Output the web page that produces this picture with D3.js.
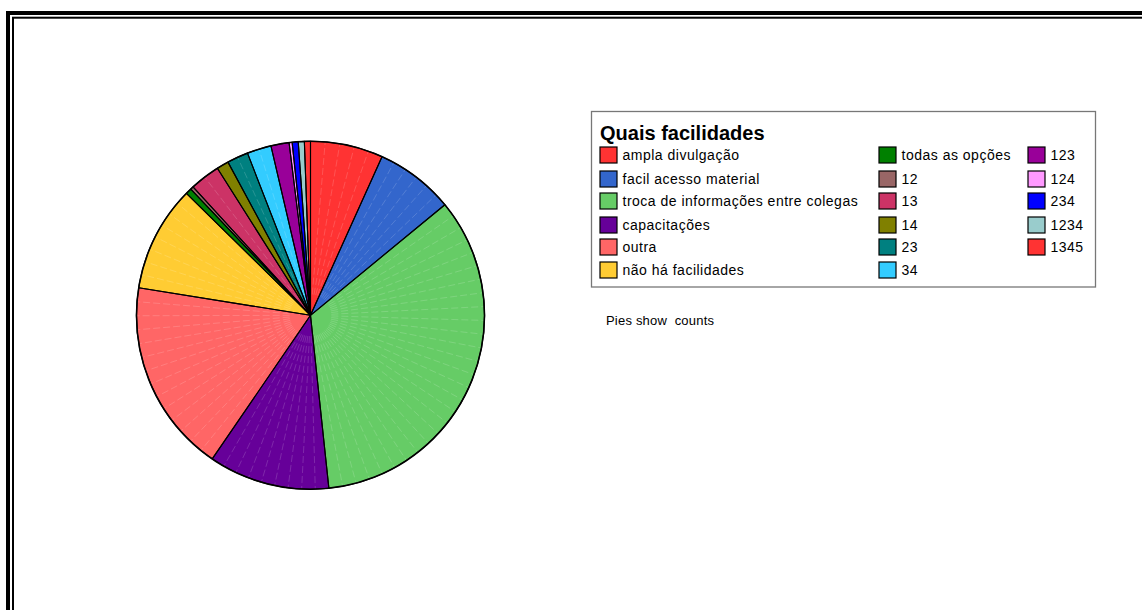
<!DOCTYPE html>
<html>
<head>
<meta charset="utf-8">
<script src="https://cdn.jsdelivr.net/npm/d3@7/dist/d3.min.js"></script>
<style>
  html, body { margin: 0; padding: 0; background: #fff; }
  svg { display: block; font-family: Arial, "Liberation Sans", sans-serif; }
</style>
</head>
<body>
<svg id="chart" width="1142" height="610"></svg>
<script>
// Responses to "Quais facilidades" (counts per answer / answer combination)
const categories = [
  "ampla divulgação", "facil acesso material", "troca de informações entre colegas",
  "capacitações", "outra", "não há facilidades", "todas as opções",
  "12", "13", "14", "23", "34", "123", "124", "234", "1234", "1345"
];
const counts = [24, 26, 122, 40, 64, 35, 2, 1, 10, 4, 7, 8, 6, 1, 2, 2, 2];
const colors = [
  "#ff3333", "#3366cc", "#66cc66", "#660099", "#ff6666", "#ffcc33", "#008000",
  "#996666", "#cc3366", "#808000", "#008080", "#33ccff", "#990099", "#ff99ff",
  "#0000ff", "#99cccc", "#ff3333"
];
const legendTitle = "Quais facilidades";
const note = "Pies show  counts";

const svg = d3.select("#chart");

// Double frame around the page (runs off the right and bottom edges)
svg.append("rect").attr("x", 8).attr("y", 13).attr("width", 1200).attr("height", 700)
  .attr("fill", "none").attr("stroke", "#000").attr("stroke-width", 4);
svg.append("rect").attr("x", 13).attr("y", 17.7).attr("width", 1200).attr("height", 700)
  .attr("fill", "none").attr("stroke", "#000").attr("stroke-width", 2);

// Pie
const cx = 310.5, cy = 315.3, R = 174;
const data = categories.map((c, i) => ({ name: c, value: counts[i], color: colors[i] }));
const pie = d3.pie().value(d => d.value).sort(null);
const arcs = pie(data);
const arc = d3.arc().innerRadius(0).outerRadius(R);

const g = svg.append("g").attr("transform", `translate(${cx},${cy})`);
g.selectAll("path.slice").data(arcs).join("path")
  .attr("class", "slice")
  .attr("d", arc)
  .attr("fill", d => d.data.color)
  .attr("stroke", "none");

// Faint radial shading lines inside each slice
const step = 4.6 * Math.PI / 180;
arcs.forEach(a => {
  const span = a.endAngle - a.startAngle;
  const n = Math.round(span / step);
  for (let k = 1; k < n; k++) {
    const t = a.startAngle + span * k / n;
    g.append("line")
      .attr("x1", 0.12 * R * Math.sin(t)).attr("y1", -0.12 * R * Math.cos(t))
      .attr("x2", R * Math.sin(t)).attr("y2", -R * Math.cos(t))
      .attr("stroke", "#ffffff").attr("stroke-opacity", 0.2)
      .attr("stroke-width", 0.8).attr("stroke-dasharray", "7,3");
  }
});

// Slice outlines
g.selectAll("path.edge").data(arcs).join("path")
  .attr("class", "edge")
  .attr("d", arc)
  .attr("fill", "none")
  .attr("stroke", "#000")
  .attr("stroke-width", 1.1)
  .attr("stroke-linejoin", "round");
g.append("circle").attr("r", R).attr("fill", "none").attr("stroke", "#000").attr("stroke-width", 1.6);

// Legend
const lg = svg.append("g");
lg.append("rect").attr("x", 591.5).attr("y", 111.5).attr("width", 504).attr("height", 175.5)
  .attr("fill", "#fff").attr("stroke", "#777").attr("stroke-width", 1.3);
lg.append("text").attr("x", 600).attr("y", 139.5)
  .attr("font-size", 20).attr("font-weight", "bold").attr("fill", "#000")
  .text(legendTitle);

const colX = [600, 879, 1028];
const rowY = [155, 179, 201, 225, 247, 270];
const perCol = [6, 6, 5];
let idx = 0;
perCol.forEach((n, c) => {
  for (let r = 0; r < n; r++, idx++) {
    const d = data[idx];
    lg.append("rect").attr("x", colX[c]).attr("y", rowY[r] - 8).attr("width", 17).attr("height", 16)
      .attr("fill", d.color).attr("stroke", "#000").attr("stroke-width", 1.2);
    lg.append("text").attr("x", colX[c] + 22.5).attr("y", rowY[r] + 5)
      .attr("font-size", 14).attr("letter-spacing", 0.5).attr("fill", "#000")
      .text(d.name);
  }
});

svg.append("text").attr("x", 606).attr("y", 324.5).attr("font-size", 13)
  .attr("letter-spacing", 0.2).style("white-space", "pre")
  .attr("fill", "#000").text(note);
</script>
</body>
</html>
